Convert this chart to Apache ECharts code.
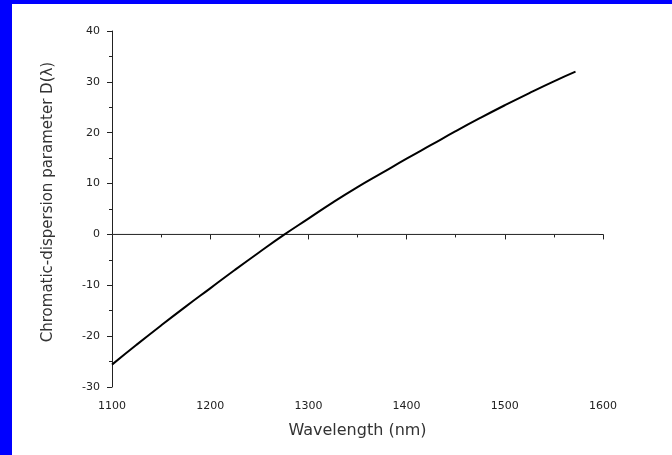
<!DOCTYPE html>
<html>
<head>
<meta charset="utf-8">
<script src="https://cdn.jsdelivr.net/npm/echarts@6/dist/echarts.min.js"></script>
<style>
  html, body { margin: 0; padding: 0; background: #fff; }
  #main { width: 672px; height: 455px; }
</style>
</head>
<body>
<div id="main"></div>
<script>
// wavelength (nm) and dispersion D(lambda)
var wavelength = [1100, 1125, 1150, 1175, 1200, 1225, 1250, 1275, 1300, 1325, 1350, 1375, 1400, 1425, 1450, 1475, 1500, 1525, 1550, 1572];
var dispersion = [-25.6, -21.7, -17.9, -14.2, -10.6, -7.0, -3.5, -0.1, 3.1, 6.3, 9.3, 12.1, 14.9, 17.6, 20.3, 22.9, 25.4, 27.8, 30.1, 32.0];
var zeroLineX = [1100, 1596];
var zeroLineY = [0, 0];

var myChart = echarts.init(document.getElementById('main'));

var curve = wavelength.map(function (w, i) { return [w, dispersion[i]]; });
var zero = zeroLineX.map(function (w, i) { return [w, zeroLineY[i]]; });

var font = 'DejaVu Sans, Verdana, sans-serif';

var option = {
    backgroundColor: '#fff',
    animation: false,
    graphic: [
        { type: 'rect', left: 0, top: 0, shape: { width: 12, height: 455 }, style: { fill: '#0000ff' } },
        { type: 'rect', left: 0, top: 0, shape: { width: 672, height: 4 }, style: { fill: '#0000ff' } }
    ],
    grid: { left: 112, right: 69, top: 31, bottom: 68 },
    xAxis: {
        type: 'value',
        min: 1100,
        max: 1600,
        interval: 100,
        name: 'Wavelength (nm)',
        nameLocation: 'middle',
        nameGap: 36,
        nameTextStyle: { fontFamily: font, fontSize: 16, color: '#333' },
        axisLine: { lineStyle: { color: '#222', width: 1 } },
        axisTick: { show: true, inside: false, length: 5, lineStyle: { color: '#222' } },
        minorTick: { show: true, splitNumber: 2, length: 3, lineStyle: { color: '#222' } },
        axisLabel: {
            fontFamily: font, fontSize: 11, color: '#222', margin: 14,
            formatter: function (v) { return String(v); }
        },
        splitLine: { show: false }
    },
    yAxis: {
        type: 'value',
        min: -30,
        max: 40,
        interval: 10,
        name: 'Chromatic-dispersion parameter D(\u03bb)',
        nameLocation: 'middle',
        nameGap: 56,
        nameRotate: 90,
        nameTextStyle: { fontFamily: font, fontSize: 15, color: '#333', padding: [0, 0, 0, 14] },
        axisLine: { show: true, lineStyle: { color: '#222', width: 1 } },
        axisTick: { show: true, inside: false, length: 5, lineStyle: { color: '#222' } },
        minorTick: { show: true, splitNumber: 2, length: 3, lineStyle: { color: '#222' } },
        axisLabel: { fontFamily: font, fontSize: 11, color: '#222', margin: 12 },
        splitLine: { show: false }
    },
    series: [
        {
            name: 'zero',
            type: 'line',
            data: zero,
            symbol: 'none',
            lineStyle: { color: '#333', width: 1 },
            silent: true
        },
        {
            name: 'D',
            type: 'line',
            data: curve,
            symbol: 'none',
            smooth: true,
            lineStyle: { color: '#000', width: 2 }
        }
    ]
};

myChart.setOption(option);
</script>
</body>
</html>
